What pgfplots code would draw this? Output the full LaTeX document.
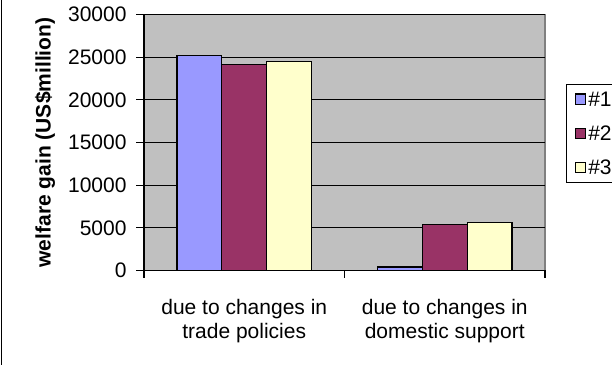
\documentclass[border=0pt]{standalone}
\usepackage{pgfplots}
\pgfplotsset{compat=1.18}
\usepackage{fontspec}
\setmainfont{Liberation Sans}
\definecolor{cone}{RGB}{153,153,255}
\definecolor{ctwo}{RGB}{153,51,102}
\definecolor{cthree}{RGB}{255,255,204}
\definecolor{plotbg}{RGB}{192,192,192}
\definecolor{frameg}{RGB}{128,128,128}
\newcommand{\ff}{\fontsize{21bp}{24bp}\selectfont}
\begin{document}
\begin{tikzpicture}
\useasboundingbox (0,0) rectangle (612bp,365bp);
\clip (0,0) rectangle (612bp,365bp);
\draw[line width=1.5bp] (1.5bp,0) -- (1.5bp,365bp);
\begin{axis}[
  at={(144bp,94.5bp)}, anchor=south west,
  width=401bp, height=256bp, scale only axis,
  xmin=-0.5, xmax=1.5, ymin=0, ymax=30000,
  clip=false,
  axis x line*=bottom, axis y line*=left,
  axis line style={line width=1.2bp, black},
  axis background/.style={fill=plotbg, draw=frameg, line width=1.2bp},
  ymajorgrids, grid style={black, line width=1bp},
  ytick={0,5000,...,30000},
  scaled y ticks=false,
  yticklabel style={/pgf/number format/set thousands separator={}, /pgf/number format/assume math mode=true, font=\ff, xshift=-6bp},
  tick align=outside, major tick length=8bp,
  ytick style={black, line width=1.2bp},
  xtick={0,1},
  xticklabels={{due to changes in\\trade policies},{due to changes in\\domestic support}},
  xtick style={draw=none},
  xticklabel style={align=center, font=\ff, yshift=-17bp},
  ylabel={\bfseries welfare gain (US\$million)},
  ylabel style={font=\ff, at={(axis description cs:-0.247,0.5)}, anchor=center},
  bar width=0.2235,
  legend style={at={(axis description cs:1.0524,0.7285)}, anchor=north west, draw=black, line width=1.2bp, fill=white, font=\ff, inner xsep=8bp, inner ysep=5bp, row sep=14bp, /tikz/every even column/.append style={column sep=6bp}},
  legend cell align=left,
  legend image code/.code={\draw[#1, line width=1.2bp] (0bp,-5bp) rectangle (10.5bp,5.5bp);},
]
\addplot[ybar, fill=cone, draw=black, line width=1.2bp, bar shift=-0.2235] coordinates {(0,25150) (1,420)};
\addplot[ybar, fill=ctwo, draw=black, line width=1.2bp, bar shift=0] coordinates {(0,24150) (1,5400)};
\addplot[ybar, fill=cthree, draw=black, line width=1.2bp, bar shift=0.2235] coordinates {(0,24450) (1,5600)};
\legend{\#1,\#2,\#3}
\coordinate (ta) at (axis cs:-0.5,0);
\coordinate (tb) at (axis cs:0.5,0);
\coordinate (tc) at (axis cs:1.5,0);
\end{axis}
\draw[line width=1.2bp] (ta) -- ++(0pt,-8bp);
\draw[line width=1.2bp] (tb) -- ++(0pt,-8bp);
\draw[line width=1.2bp] (tc) -- ++(0pt,-8bp);
\end{tikzpicture}
\end{document}
